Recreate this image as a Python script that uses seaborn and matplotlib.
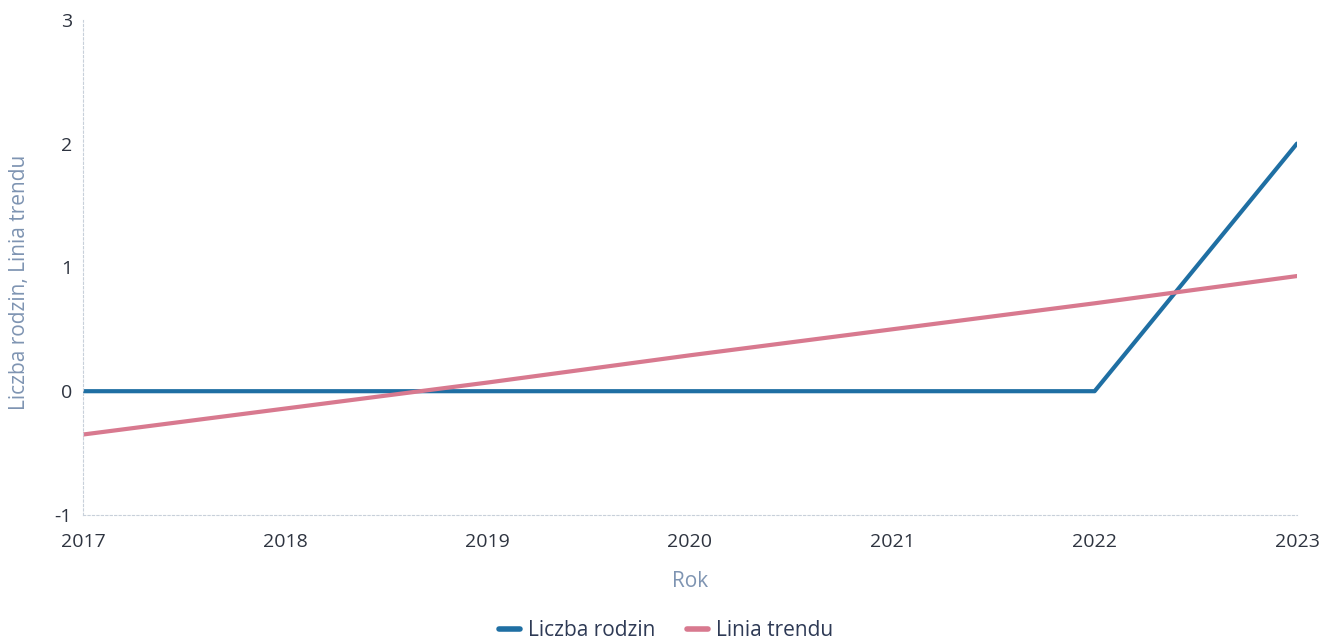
import numpy as np
import pandas as pd
import matplotlib
matplotlib.use("Agg")
import matplotlib.pyplot as plt
import seaborn as sns
from matplotlib.lines import Line2D

# dati
anni = [2017, 2018, 2019, 2020, 2021, 2022, 2023]
liczba_rodzin = [0, 0, 0, 0, 0, 0, 2]
linia_trendu = [-0.35, -0.14, 0.07, 0.29, 0.5, 0.71, 0.93]

df = pd.DataFrame({
    "Rok": anni * 2,
    "valore": liczba_rodzin + linia_trendu,
    "serie": ["Liczba rodzin"] * 7 + ["Linia trendu"] * 7,
})

sns.set_style("white")
plt.rcParams['font.family'] = ['Open Sans', 'DejaVu Sans']
plt.rcParams['axes.unicode_minus'] = False

fig = plt.figure(figsize=(13.32, 6.44), dpi=100)
ax = fig.add_axes([0.0623, 0.2003, 0.9114, 0.769])

palette = {"Liczba rodzin": "#1f6fa3", "Linia trendu": "#d8798f"}
sns.lineplot(data=df, x="Rok", y="valore", hue="serie", palette=palette,
             linewidth=3, ax=ax, legend=False)

ax.set_xlim(2017, 2023)
ax.set_ylim(-1, 3)
ax.set_yticks([-1, 0, 1, 2, 3])
ax.set_xticks(anni)

for s in ["top", "right"]:
    ax.spines[s].set_visible(False)
for s in ["left", "bottom"]:
    ax.spines[s].set_color("#c8d0da")
    ax.spines[s].set_linestyle((0, (2, 2)))
    ax.spines[s].set_linewidth(0.8)

ax.tick_params(axis="both", length=0, labelsize=14, labelcolor="#2e3440")
ax.tick_params(axis="x", pad=13)
ax.tick_params(axis="y", pad=8)

ax.set_xlabel("Rok", fontsize=15, color="#7e94b2", labelpad=14)
ax.set_ylabel("Liczba rodzin, Linia trendu", fontsize=15, color="#7e94b2")
ax.yaxis.set_label_coords(-0.044, 0.47)

handles = [Line2D([0], [0], color=palette["Liczba rodzin"], lw=4),
           Line2D([0], [0], color=palette["Linia trendu"], lw=4)]
fig.legend(handles, ["Liczba rodzin", "Linia trendu"], loc="lower center",
           bbox_to_anchor=(0.5, -0.025), ncol=2, frameon=False, fontsize=15,
           handlelength=1.0, handletextpad=0.4, columnspacing=1.5,
           labelcolor="#2e3a55")

fig.savefig("out.png", dpi=100)
